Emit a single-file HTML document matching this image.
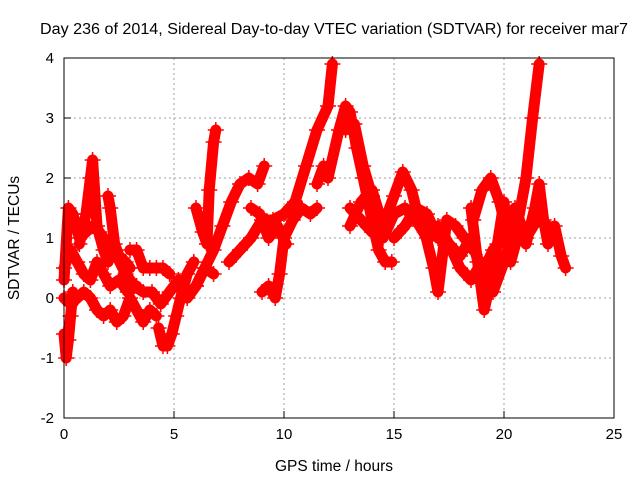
<!DOCTYPE html>
<html><head><meta charset="utf-8"><style>
body{margin:0;background:#fff}
svg{display:block;font-family:"Liberation Sans",sans-serif}
</style></head><body>
<svg id="c" width="640" height="480">
<rect width="640" height="480" fill="#fff"/>
<text x="334" y="34" text-anchor="middle" font-size="15.5" textLength="588" lengthAdjust="spacingAndGlyphs">Day 236 of 2014, Sidereal Day-to-day VTEC variation (SDTVAR) for receiver mar7</text>
<text x="334" y="471" text-anchor="middle" font-size="15.5">GPS time / hours</text>
<text transform="translate(19,238) rotate(-90)" text-anchor="middle" font-size="15.5">SDTVAR / TECUs</text>
<g id="grid"></g><g id="marks"></g>
<rect x="64" y="58" width="550" height="360" fill="none" stroke="#000" stroke-width="1"/>
</svg>
<script>
const xTicks=[0,5,10,15,20,25];
const yTicks=[-2,-1,0,1,2,3,4];
const t1=[0,0.2,0.4,0.7,1.0,1.3,1.6,2.0,2.4,2.8,3.2,3.6,4.0,4.4,4.8,5.2,5.6,6.0,6.4,6.8];
const v1=[0.3,1.5,1.4,1.0,1.1,1.2,1.1,0.9,0.7,0.4,0.2,0.1,0.1,-0.1,0.1,0.3,0.0,0.2,0.5,0.4];
const t2=[0,0.3,0.6,0.9,1.2,1.5,1.8,2.1,2.4,2.7,3.0,3.3,3.6,3.9,4.2];
const v2=[0,-0.1,0.0,0.1,0.0,-0.2,-0.3,-0.2,-0.4,-0.3,0.0,-0.2,-0.4,-0.2,-0.3];
const t3=[0,0.1,0.2,0.3,0.4];
const v3=[-0.6,-1.0,-0.7,-0.3,0.1];
const t4=[0.7,1.0,1.2,1.3,1.5,1.8,2.0];
const v4=[0.9,1.4,2.0,2.3,1.2,0.8,0.6];
const t5=[2.0,2.1,2.3,2.5,2.8,3.0];
const v5=[1.7,1.5,0.9,0.7,0.6,0.5];
const t6=[3.0,3.3,3.6,3.9,4.2,4.5,4.8];
const v6=[0.8,0.8,0.5,0.5,0.5,0.5,0.4];
const t7=[4.3,4.5,4.7,4.9,5.1,5.3,5.6,5.9];
const v7=[-0.5,-0.8,-0.8,-0.6,-0.3,0.0,0.4,0.6];
const t8=[6.0,6.3,6.5,6.6,6.8,6.9];
const v8=[1.5,1.1,0.9,1.8,2.6,2.8];
const t9=[6.0,6.4,6.8,7.2,7.6,8.0,8.4,8.8,9.1];
const v9=[0.2,0.5,0.8,1.2,1.6,1.9,2.0,1.9,2.2];
const t10=[7.5,8.0,8.5,9.0,9.5,10.0,10.5,11.0,11.5,12.0,12.2];
const v10=[0.6,0.8,1.0,1.3,1.3,1.4,1.6,2.2,2.8,3.2,3.9];
const t11=[9.0,9.3,9.6,9.8,10.0,10.4,10.8,11.2,11.5];
const v11=[0.1,0.2,0.0,0.4,1.0,1.3,1.5,1.4,1.5];
const t12=[11.5,11.8,12.0,12.5,12.8,13.0,13.3,13.6,14.0,14.3,14.6,14.9];
const v12=[1.9,2.2,2.0,2.8,3.2,3.1,2.5,2.0,1.3,0.8,0.6,0.6];
const t13=[13.0,13.5,14.0,14.5,15.0,15.4,15.8,16.2,16.6];
const v13=[1.2,1.6,1.8,1.2,1.7,2.1,1.8,1.2,1.0];
const t14=[16.0,16.4,16.8,17.0,17.4,17.8,18.2,18.6];
const v14=[1.3,1.1,0.5,0.1,1.3,1.2,1.0,0.8];
const t15=[18.5,18.8,19.1,19.4,19.7,20.0,20.3,20.6];
const v15=[1.5,0.6,-0.2,0.3,0.9,1.6,0.6,1.0];
const t16=[18.6,19.0,19.4,19.8,20.2,20.6,21.0,21.3,21.6];
const v16=[1.3,1.8,2.0,1.6,1.0,1.2,2.0,3.0,3.9];
const t17=[21.0,21.4,21.6,21.8,22.0,22.3,22.6,22.8];
const v17=[0.9,1.5,1.9,1.3,0.9,1.2,0.7,0.5];
const t18=[13,13.5,14,14.5,15,15.5,16,16.5,17,17.5,18,18.5,19,19.5,20,20.5,21,21.5,22];
const v18=[1.5,1.3,1.1,1.0,1.4,1.5,1.3,1.0,1.2,0.9,0.7,1.0,0.4,0.8,1.0,1.5,1.0,1.3,1.2];
const t19=[15,15.5,16,16.5,17,17.5,18,18.5,19,19.5,20,20.5];
const v19=[1.0,1.2,1.5,1.4,1.0,0.9,0.5,0.3,0.6,0.1,0.6,1.2];
const t20=[0,0.3,0.6,0.9,1.2,1.5,1.8,2.1,2.5,2.9,3.3];
const v20=[0.5,0.8,0.6,0.4,0.3,0.6,0.4,0.2,0.3,0.1,0.2];
const t21=[12.8,13.2,13.6,14.0,14.4];
const v21=[2.8,2.9,2.2,1.7,1.3];
const t22=[8.5,8.9,9.3,9.7,10.1];
const v22=[1.5,1.4,1.0,1.2,0.9];
const tracks=[[t1,v1],[t2,v2],[t3,v3],[t4,v4],[t5,v5],[t6,v6],[t7,v7],[t8,v8],[t9,v9],[t10,v10],[t11,v11],[t12,v12],[t13,v13],[t14,v14],[t15,v15],[t16,v16],[t17,v17],[t18,v18],[t19,v19],[t20,v20],[t21,v21],[t22,v22]];
const X=t=>64+t*22, Y=v=>298-v*60;
const NS='http://www.w3.org/2000/svg';
const g=document.getElementById('grid'), m=document.getElementById('marks');
function mk(tag,a,p){const e=document.createElementNS(NS,tag);for(const k in a)e.setAttribute(k,a[k]);p.appendChild(e);return e;}
xTicks.forEach(t=>{
 if(t>0&&t<25){const l=mk('line',{x1:X(t),x2:X(t),y1:58,y2:418,stroke:'#a0a0a0','stroke-dasharray':'2,3'},g);
 
 }
 const k=mk('line',{x1:X(t),x2:X(t),y1:418,y2:411,stroke:'#000'},g);
 
 
 const tx=mk('text',{x:X(t),y:439,'text-anchor':'middle','font-size':15},g);tx.textContent=t;
 
 
});
yTicks.forEach(v=>{
 if(v>-2&&v<4){const l=mk('line',{x1:64,x2:614,y1:Y(v),y2:Y(v),stroke:'#a0a0a0','stroke-dasharray':'2,3'},g);
 
 }
 const k=mk('line',{x1:64,x2:71,y1:Y(v),y2:Y(v),stroke:'#000'},g);
 
 
 const tx=mk('text',{x:54,y:Y(v)+5,'text-anchor':'end','font-size':15},g);tx.textContent=v;
 
 
});
tracks.forEach(([ts,vs],i)=>{
 const pts=ts.map((t,j)=>X(t)+','+Y(vs[j])).join(' ');
 const pl=mk('polyline',{points:pts,fill:'none',stroke:'#f00','stroke-width':11,'stroke-linejoin':'round','stroke-linecap':'round'},m);
 
 
 ts.forEach((t,j)=>{
  const x=X(t),y=Y(vs[j]);
  const p=mk('path',{d:`M${x-8},${y}H${x+8}M${x},${y-8}V${y+8}`,stroke:'#f00','stroke-width':1.5},m);
  
  
 });
});
</script>
</body></html>
